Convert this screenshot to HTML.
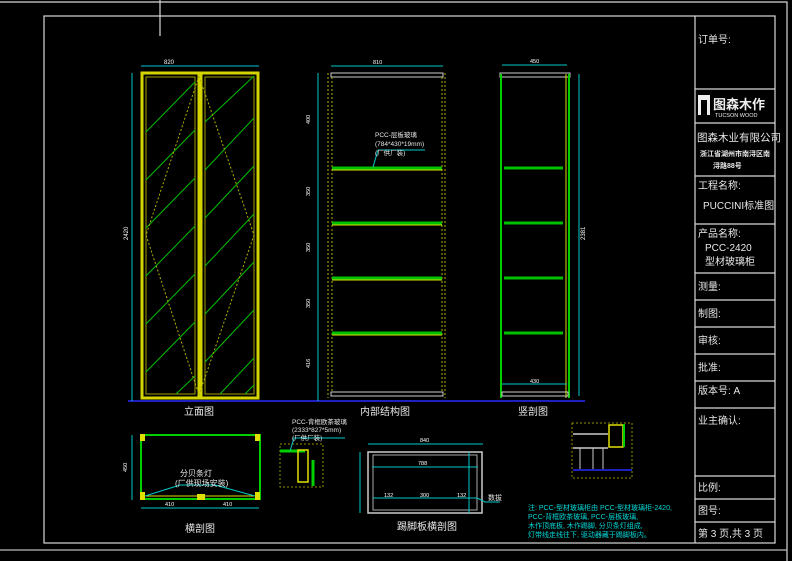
<!DOCTYPE html>
<html><head><meta charset="utf-8"><style>
html,body{margin:0;padding:0;background:#000;}
svg{display:block}
text{font-family:"Liberation Sans","Noto Sans CJK SC",sans-serif;}
</style></head><body>
<svg width="792" height="561" viewBox="0 0 792 561" xmlns="http://www.w3.org/2000/svg">
<rect width="792" height="561" fill="#000"/>
<g stroke="#d8d8d8" fill="none" stroke-width="1.2">
<line x1="160" y1="0" x2="160" y2="36"/>
<polyline points="0,2 787,2 787,561"/>
<rect x="44" y="16" width="731" height="527"/>
<line x1="0" y1="550" x2="787" y2="550" stroke="#bbb"/>
<line x1="695" y1="16" x2="695" y2="543"/>
<line x1="695" y1="89" x2="775" y2="89"/>
<line x1="695" y1="123" x2="775" y2="123"/>
<line x1="695" y1="176" x2="775" y2="176"/>
<line x1="695" y1="224" x2="775" y2="224"/>
<line x1="695" y1="273" x2="775" y2="273"/>
<line x1="695" y1="300" x2="775" y2="300"/>
<line x1="695" y1="327" x2="775" y2="327"/>
<line x1="695" y1="354" x2="775" y2="354"/>
<line x1="695" y1="381" x2="775" y2="381"/>
<line x1="695" y1="408" x2="775" y2="408"/>
<line x1="695" y1="476" x2="775" y2="476"/>
<line x1="695" y1="499" x2="775" y2="499"/>
<line x1="695" y1="522" x2="775" y2="522"/>
</g>
<g fill="#e8e8e8" font-size="10">
<text x="698" y="43">订单号:</text>
<text x="697" y="141" font-size="10.5">图森木业有限公司</text>
<text x="700" y="156" font-size="7" font-weight="bold">浙江省湖州市南浔区南</text>
<text x="713" y="168" font-size="7" font-weight="bold">浔路88号</text>
<text x="698" y="189">工程名称:</text>
<text x="703" y="209">PUCCINI标准图</text>
<text x="698" y="237">产品名称:</text>
<text x="705" y="251">PCC-2420</text>
<text x="705" y="265">型材玻璃柜</text>
<text x="698" y="290">测量:</text>
<text x="698" y="317">制图:</text>
<text x="698" y="344">审核:</text>
<text x="698" y="371">批准:</text>
<text x="698" y="394">版本号: A</text>
<text x="698" y="424">业主确认:</text>
<text x="698" y="491">比例:</text>
<text x="698" y="514">图号:</text>
<text x="698" y="537">第 3 页,共 3 页</text>
</g>
<rect x="698" y="95" width="12" height="20" fill="#eee"/>
<rect x="701" y="100" width="6" height="15" fill="#000"/>
<text x="713" y="109" fill="#eee" font-size="13" font-weight="bold">图森木作</text>
<text x="715" y="117" fill="#eee" font-size="5.5">TUCSON WOOD</text>

<line x1="128" y1="401" x2="585" y2="401" stroke="#2020c0" stroke-width="2"/>

<g fill="none">
<rect x="142" y="73" width="57" height="325" stroke="#d4d400" stroke-width="3"/>
<rect x="201" y="73" width="57" height="325" stroke="#d4d400" stroke-width="3"/>
<rect x="146" y="77" width="49" height="317" stroke="#a0a000" stroke-width="1"/>
<rect x="205" y="77" width="49" height="317" stroke="#a0a000" stroke-width="1"/>
<g stroke="#00c000" stroke-width="1">
<line x1="146" y1="132" x2="195" y2="82"/><line x1="146" y1="180" x2="195" y2="130"/>
<line x1="146" y1="228" x2="195" y2="178"/><line x1="146" y1="276" x2="195" y2="226"/>
<line x1="146" y1="324" x2="195" y2="274"/><line x1="146" y1="372" x2="195" y2="322"/>
<line x1="176" y1="394" x2="195" y2="376"/>
<line x1="205" y1="122" x2="254" y2="76"/><line x1="205" y1="170" x2="254" y2="118"/>
<line x1="205" y1="218" x2="254" y2="166"/><line x1="205" y1="266" x2="254" y2="214"/>
<line x1="205" y1="314" x2="254" y2="262"/><line x1="205" y1="362" x2="254" y2="310"/>
<line x1="220" y1="394" x2="254" y2="358"/><line x1="245" y1="394" x2="254" y2="385"/>
</g>
<g stroke="#b0b000" stroke-dasharray="2,2"><polyline points="199,76 146,235 199,395"/><polyline points="199,76 254,235 199,395"/></g>
<g stroke="#00c8c8"><line x1="141" y1="66" x2="259" y2="66"/><line x1="132" y1="73" x2="132" y2="401"/></g>
</g>
<text x="164" y="64" fill="#fff" font-size="6">820</text>
<text x="128" y="240" fill="#fff" font-size="6" transform="rotate(-90 128 240)">2420</text>
<text x="184" y="415" fill="#e8e8e8" font-size="10">立面图</text>

<g fill="none">
<rect x="331" y="73" width="112" height="4" stroke="#ccc"/>
<rect x="331" y="392" width="112" height="4" stroke="#ccc"/>
<g stroke="#b0b000" stroke-dasharray="2,2"><line x1="328" y1="73" x2="328" y2="398"/><line x1="445" y1="73" x2="445" y2="398"/><line x1="332" y1="77" x2="332" y2="392"/><line x1="442" y1="77" x2="442" y2="392"/></g>
<g stroke="#00c000" stroke-width="3"><line x1="332" y1="168" x2="442" y2="168"/><line x1="332" y1="223" x2="442" y2="223"/><line x1="332" y1="278" x2="442" y2="278"/><line x1="332" y1="333" x2="442" y2="333"/></g>
<g stroke="#e0e000" stroke-width="1"><line x1="332" y1="170" x2="442" y2="170"/><line x1="332" y1="225" x2="442" y2="225"/><line x1="332" y1="280" x2="442" y2="280"/><line x1="332" y1="335" x2="442" y2="335"/></g>
<g stroke="#00c8c8"><line x1="331" y1="66" x2="443" y2="66"/><line x1="318" y1="73" x2="318" y2="401"/><polyline points="373,167 378,150 425,150"/></g>
</g>
<g fill="#fff" font-size="5.5"><text x="373" y="64">810</text>
<text x="310" y="124" transform="rotate(-90 310 124)">400</text><text x="310" y="196" transform="rotate(-90 310 196)">350</text>
<text x="310" y="252" transform="rotate(-90 310 252)">350</text><text x="310" y="308" transform="rotate(-90 310 308)">350</text>
<text x="310" y="368" transform="rotate(-90 310 368)">416</text></g>
<g fill="#e8e8e8" font-size="6.5"><text x="375" y="137">PCC-层板玻璃</text><text x="375" y="146">(784*430*19mm)</text><text x="375" y="155">(厂供厂装)</text></g>
<text x="360" y="415" fill="#e8e8e8" font-size="10">内部结构图</text>

<g fill="none">
<rect x="500" y="73" width="70" height="4" stroke="#ccc"/>
<line x1="501" y1="74" x2="501" y2="398" stroke="#00d000" stroke-width="2"/>
<line x1="569" y1="74" x2="569" y2="398" stroke="#00d000" stroke-width="2"/>
<line x1="566" y1="74" x2="566" y2="398" stroke="#e0e000"/>
<g stroke="#00c000" stroke-width="3"><line x1="504" y1="168" x2="563" y2="168"/><line x1="504" y1="223" x2="563" y2="223"/><line x1="504" y1="278" x2="563" y2="278"/><line x1="504" y1="333" x2="563" y2="333"/></g>
<rect x="502" y="392" width="66" height="4" stroke="#ccc"/>
<g stroke="#00c8c8"><line x1="502" y1="65" x2="567" y2="65"/><line x1="502" y1="384" x2="567" y2="384"/><line x1="579" y1="74" x2="579" y2="396"/></g>
</g>
<text x="530" y="63" fill="#fff" font-size="5.5">450</text>
<text x="530" y="383" fill="#fff" font-size="5.5">430</text>
<text x="585" y="240" fill="#fff" font-size="6" transform="rotate(-90 585 240)">2381</text>
<text x="518" y="415" fill="#e8e8e8" font-size="10">竖剖图</text>

<g fill="none">
<rect x="141" y="435" width="119" height="64" stroke="#00d000" stroke-width="2"/>
<line x1="143" y1="496" x2="258" y2="496" stroke="#e0e000"/>
<g fill="#e0e000" stroke="none"><rect x="140" y="434" width="5" height="7"/><rect x="255" y="434" width="5" height="7"/><rect x="140" y="492" width="5" height="8"/><rect x="255" y="492" width="5" height="8"/><rect x="197" y="494" width="8" height="6"/></g>
<g stroke="#00c8c8"><polyline points="145,496 180,485 215,485 255,496"/><line x1="141" y1="508" x2="259" y2="508"/><line x1="132" y1="435" x2="132" y2="500"/></g>
</g>
<g fill="#e8e8e8" font-size="8"><text x="180" y="476">分贝条灯</text><text x="175" y="486">(厂供现场安装)</text></g>
<g fill="#fff" font-size="5.5"><text x="165" y="506">410</text><text x="223" y="506">410</text><text x="127" y="472" transform="rotate(-90 127 472)">450</text></g>
<text x="185" y="532" fill="#e8e8e8" font-size="10">横剖图</text>

<g fill="none">
<rect x="280" y="444" width="43" height="43" stroke="#909000" stroke-dasharray="2,2"/>
<line x1="280" y1="451" x2="305" y2="451" stroke="#00d000" stroke-width="3"/>
<line x1="313" y1="460" x2="313" y2="486" stroke="#00d000" stroke-width="3"/>
<rect x="298" y="450" width="10" height="32" stroke="#e0e000" stroke-width="1.5"/>
<polyline points="290,451 294,438 345,438" stroke="#00c8c8"/>
</g>
<g fill="#e8e8e8" font-size="6.5"><text x="292" y="424">PCC-背框欧茶玻璃</text><text x="292" y="432">(2333*827*5mm)</text><text x="292" y="440">(厂供厂装)</text></g>

<g fill="none">
<rect x="368" y="452" width="114" height="61" stroke="#ccc" stroke-width="1.5"/>
<rect x="373" y="455" width="104" height="55" stroke="#aaa"/>
<g stroke="#00c8c8"><line x1="368" y1="444" x2="483" y2="444"/><line x1="360" y1="452" x2="360" y2="513"/><line x1="372" y1="467" x2="478" y2="467"/><line x1="373" y1="498" x2="477" y2="498"/><line x1="469" y1="452" x2="469" y2="513"/><polyline points="477,498 485,502 500,502"/></g>
</g>
<g fill="#fff" font-size="5.5"><text x="420" y="442">840</text><text x="418" y="465">788</text><text x="384" y="497">132</text><text x="420" y="497">300</text><text x="457" y="497">132</text></g>
<text x="488" y="500" fill="#e8e8e8" font-size="7">数拔</text>
<text x="397" y="530" fill="#e8e8e8" font-size="10">踢脚板横剖图</text>

<g fill="none">
<rect x="572" y="423" width="60" height="55" stroke="#909000" stroke-dasharray="2,2"/>
<line x1="573" y1="434" x2="608" y2="434" stroke="#ccc" stroke-width="1.5"/>
<line x1="573" y1="448" x2="608" y2="448" stroke="#ccc" stroke-width="1.5"/>
<g stroke="#ccc"><line x1="580" y1="448" x2="580" y2="470"/><line x1="593" y1="448" x2="593" y2="470"/><line x1="603" y1="448" x2="603" y2="470"/></g>
<line x1="573" y1="470" x2="632" y2="470" stroke="#2020c0" stroke-width="2"/>
<rect x="609" y="425" width="14" height="22" stroke="#e0e000" stroke-width="1.5"/>
<line x1="624" y1="424" x2="624" y2="447" stroke="#00d000" stroke-width="2"/>
</g>
<text x="528" y="510" fill="#00d8d8" font-size="7">注: PCC-型材玻璃柜由 PCC-型材玻璃柜-2420,</text>
<text x="528" y="519" fill="#00d8d8" font-size="7">PCC-背框欧茶玻璃, PCC-层板玻璃,</text>
<text x="528" y="528" fill="#00d8d8" font-size="7">木作顶底板, 木作踢脚, 分贝条灯组成,</text>
<text x="528" y="537" fill="#00d8d8" font-size="7">灯带线走线往下, 驱动器藏于踢脚板内。</text>
</svg>
</body></html>
